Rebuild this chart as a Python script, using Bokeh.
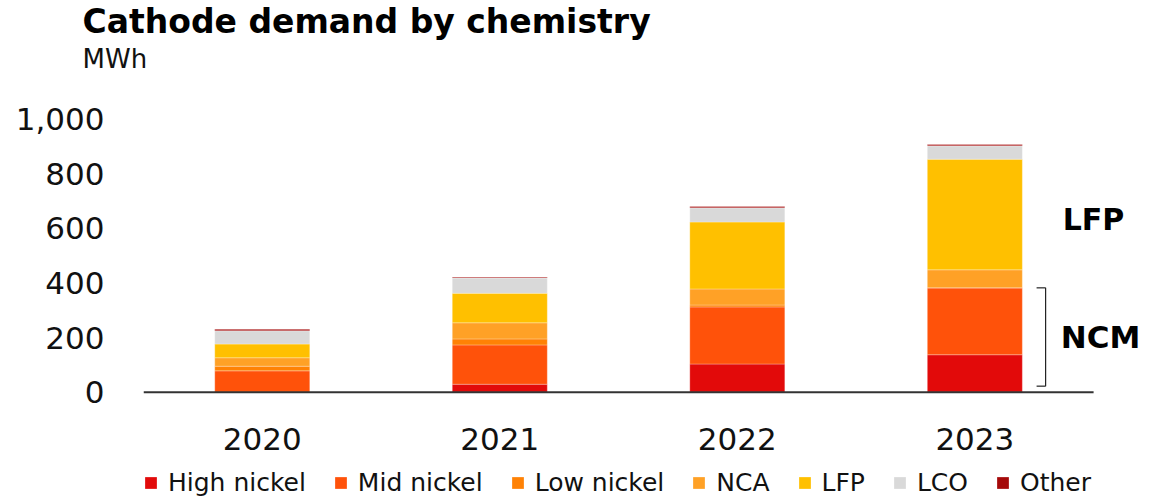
from bokeh.plotting import figure
from bokeh.models import (Range1d, Label, Legend, LegendItem, FixedTicker, Title,
                          NumeralTickFormatter, ColumnDataSource)
from bokeh.core.properties import value
from bokeh.embed import file_html
from bokeh.resources import INLINE

# Cathode demand, MWh
years = ["2020", "2021", "2022", "2023"]
high_nickel = [0, 29, 103, 137]
mid_nickel = [78, 144, 209, 245]
low_nickel = [17, 22, 7, 0]
nca = [31, 59, 59, 66]
lfp = [50, 108, 245, 405]
lco = [49, 56, 52, 49]
other = [5, 3, 5, 5]

series_names = ["High nickel", "Mid nickel", "Low nickel", "NCA", "LFP", "LCO", "Other"]
series_values = [high_nickel, mid_nickel, low_nickel, nca, lfp, lco, other]
series_colors = ["#E20A0A", "#FF520A", "#FF8205", "#FFA126", "#FFC000", "#D9D9D9", "#A50A0A"]
y_ticks = [0, 200, 400, 600, 800, 1000]

FONT = "DejaVu Sans"

xs = list(range(len(years)))
# the frame reaches the right and bottom edges; year labels and legend sit inside it
p = figure(width=1171, height=499, output_backend="svg", toolbar_location=None,
           title=None,
           x_range=Range1d(-0.5, 3.828), y_range=Range1d(-393, 1068),
           min_border_left=143, min_border_right=0, min_border_top=100,
           min_border_bottom=0)
p.outline_line_color = None
p.background_fill_color = "white"
p.border_fill_color = "white"
p.xgrid.grid_line_color = None
p.ygrid.grid_line_color = None

# stacked bars
bottoms = [0] * len(years)
items = []
for name, vals, col in zip(series_names, series_values, series_colors):
    tops = [b + v for b, v in zip(bottoms, vals)]
    src = ColumnDataSource(dict(x=xs, bottom=bottoms, top=tops))
    r = p.vbar(x="x", bottom="bottom", top="top", width=0.4, source=src,
               fill_color=col, line_color="white", line_width=0.6, line_alpha=0.45)
    items.append(LegendItem(label=name, renderers=[r]))
    bottoms = tops

# baseline under the bars
p.segment(x0=[-0.5], y0=[0], x1=[len(years) - 0.5], y1=[0],
          line_color="#333333", line_width=2)

# category labels under the baseline
p.text(x=xs, y=[-170] * len(xs), text=years, text_font=value(FONT),
       text_font_size="31px", text_color="#111111", text_align="center",
       text_baseline="middle")
p.xaxis.visible = False

p.yaxis.ticker = FixedTicker(ticks=y_ticks)
p.yaxis.formatter = NumeralTickFormatter(format="0,0")
p.yaxis.axis_line_color = None
p.yaxis.major_tick_line_color = None
p.yaxis.minor_tick_line_color = None
p.yaxis.major_label_text_font = FONT
p.yaxis.major_label_text_font_size = "31px"
p.yaxis.major_label_text_color = "#111111"
p.yaxis.major_label_standoff = 33

# unit line and chart title
p.add_layout(Title(text="MWh", align="left", offset=-61,
                   text_font=FONT, text_font_size="26px", text_font_style="normal",
                   text_color="#111111", standoff=53), "above")
p.add_layout(Title(text="Cathode demand by chemistry", align="left", offset=-61,
                   text_font=FONT, text_font_size="33px", text_font_style="bold",
                   text_color="#000000", standoff=-50), "above")

# annotations on the last bar
last = len(years) - 1
ncm_top = high_nickel[last] + mid_nickel[last]
lfp_base = ncm_top + low_nickel[last] + nca[last]
lfp_mid = lfp_base + lfp[last] / 2
bx = last + 0.298
p.segment(x0=[bx, bx, bx], y0=[22, 22, ncm_top], x1=[bx, bx - 0.038, bx - 0.038],
          y1=[ncm_top, 22, ncm_top], line_color="#222222", line_width=1.2)
p.add_layout(Label(x=last + 0.37, y=lfp_mid - 18, text="LFP", text_font=FONT,
                   text_font_style="bold", text_font_size="30px",
                   text_color="#000000", text_baseline="middle"))
p.add_layout(Label(x=last + 0.362, y=(ncm_top + 22) / 2, text="NCM", text_font=FONT,
                   text_font_style="bold", text_font_size="31px",
                   text_color="#000000", text_baseline="middle"))

legend = Legend(items=items, orientation="horizontal", location=(0, 2),
                label_text_font=FONT, label_text_font_size="25px",
                label_text_color="#111111", glyph_width=15, glyph_height=15,
                label_standoff=10, spacing=27, padding=0, margin=0,
                border_line_color=None, background_fill_alpha=0)
p.add_layout(legend, "center")

open("out.html", "w").write(file_html(p, INLINE))
